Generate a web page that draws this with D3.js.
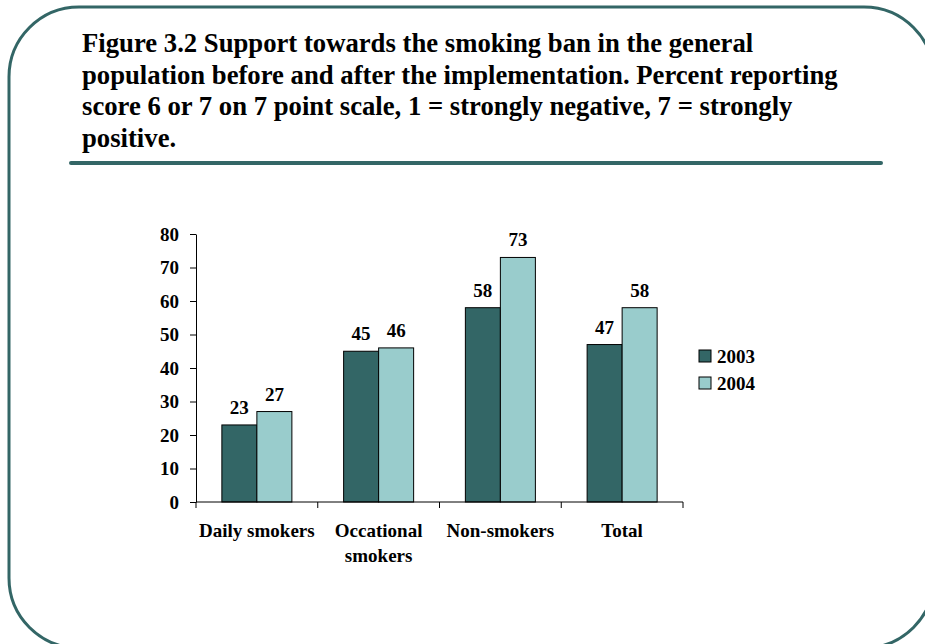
<!DOCTYPE html>
<html>
<head>
<meta charset="utf-8">
<script src="https://cdn.jsdelivr.net/npm/d3@7/dist/d3.min.js"></script>
<style>
  html, body { margin: 0; padding: 0; background: #ffffff; }
  svg { display: block; }
  text { font-family: "Liberation Serif", "Times New Roman", serif; font-weight: bold; fill: #000; }
</style>
</head>
<body>
<svg id="chart" width="925" height="644"></svg>
<script>
// Support for the smoking ban, % scoring 6 or 7 on a 7 point scale
const categories = [["Daily smokers"], ["Occational", "smokers"], ["Non-smokers"], ["Total"]];
const seriesNames = ["2003", "2004"];
const values2003 = [23, 45, 58, 47];
const values2004 = [27, 46, 73, 58];
const yTicks = [0, 10, 20, 30, 40, 50, 60, 70, 80];
const titleLines = [
  "Figure 3.2 Support towards the smoking ban in the general",
  "population before and after the implementation. Percent reporting",
  "score 6 or 7 on 7 point scale, 1 = strongly negative, 7 = strongly",
  "positive."
];

const colors = { "2003": "#336666", "2004": "#99cccc" };
const frameColor = "#336666";
const chartFont = "19px";

const svg = d3.select("#chart");

// Rounded slide frame
svg.append("rect")
  .attr("x", 9).attr("y", 7)
  .attr("width", 925).attr("height", 641)
  .attr("rx", 70).attr("ry", 70)
  .attr("fill", "none")
  .attr("stroke", frameColor)
  .attr("stroke-width", 3);

// Title block
const title = svg.append("text")
  .attr("x", 82)
  .style("font-size", "26.7px");
const titleBaselines = [52, 83.7, 115.3, 147];
titleLines.forEach((line, i) => {
  title.append("tspan").attr("x", 82).attr("y", titleBaselines[i]).text(line);
});

svg.append("line")
  .attr("x1", 71).attr("x2", 881)
  .attr("y1", 163).attr("y2", 163)
  .attr("stroke", frameColor)
  .attr("stroke-width", 4)
  .attr("stroke-linecap", "round");

// Plot area
const plot = { left: 196, right: 683, top: 234, bottom: 502 };
const keys = categories.map(c => c.join(" "));

const x0 = d3.scaleBand().domain(keys).range([plot.left, plot.right]).padding(0);
const x1 = d3.scaleBand().domain(seriesNames)
  .range([0, x0.bandwidth()])
  .paddingInner(0)
  .paddingOuter(0.739);
const y = d3.scaleLinear().domain([0, 80]).range([plot.bottom, plot.top]);

const rows = keys.map((k, i) => ({ key: k, "2003": values2003[i], "2004": values2004[i] }));

// Bars
const groups = svg.append("g").selectAll("g")
  .data(rows).join("g")
  .attr("transform", d => `translate(${x0(d.key)},0)`);

groups.selectAll("rect")
  .data(d => seriesNames.map(s => ({ s, v: d[s] })))
  .join("rect")
  .attr("x", d => x1(d.s))
  .attr("y", d => y(d.v))
  .attr("width", x1.bandwidth())
  .attr("height", d => y(0) - y(d.v))
  .attr("fill", d => colors[d.s])
  .attr("stroke", "#000")
  .attr("stroke-width", 1);

// Value labels
groups.selectAll("text.val")
  .data(d => seriesNames.map(s => ({ s, v: d[s] })))
  .join("text")
  .attr("class", "val")
  .attr("x", d => x1(d.s) + x1.bandwidth() / 2)
  .attr("y", d => y(d.v) - 11)
  .attr("text-anchor", "middle")
  .style("font-size", chartFont)
  .text(d => d.v);

// Y axis
const yAxis = d3.axisLeft(y)
  .tickValues(yTicks)
  .tickSize(6)
  .tickSizeOuter(0)
  .tickPadding(11);
const gy = svg.append("g")
  .attr("transform", `translate(${plot.left},0)`)
  .call(yAxis);
gy.selectAll("text")
  .style("font-size", chartFont)
  .style("font-family", "'Liberation Serif', 'Times New Roman', serif")
  .style("font-weight", "bold");
gy.selectAll("path, line").attr("stroke", "#000");

// X axis: baseline with ticks at category boundaries
const boundaries = keys.map(k => x0(k)).concat([plot.right]);
const gx = svg.append("g");
gx.append("line")
  .attr("x1", plot.left).attr("x2", plot.right)
  .attr("y1", plot.bottom).attr("y2", plot.bottom)
  .attr("stroke", "#000");
gx.selectAll("line.tick")
  .data(boundaries).join("line")
  .attr("class", "tick")
  .attr("x1", d => d).attr("x2", d => d)
  .attr("y1", plot.bottom).attr("y2", plot.bottom + 6)
  .attr("stroke", "#000");

// Category labels
const catLabels = svg.append("g").selectAll("text")
  .data(categories.map((c, i) => ({ lines: c, key: keys[i] })))
  .join("text")
  .attr("text-anchor", "middle")
  .style("font-size", chartFont);
catLabels.each(function (d) {
  const t = d3.select(this);
  d.lines.forEach((ln, j) => {
    t.append("tspan")
      .attr("x", x0(d.key) + x0.bandwidth() / 2)
      .attr("y", 537 + j * 25)
      .text(ln);
  });
});

// Legend
const legend = svg.append("g").selectAll("g")
  .data(seriesNames).join("g")
  .attr("transform", (d, i) => `translate(699,${350 + i * 27})`);
legend.append("rect")
  .attr("width", 12).attr("height", 12)
  .attr("fill", d => colors[d])
  .attr("stroke", "#000")
  .attr("stroke-width", 1);
legend.append("text")
  .attr("x", 18).attr("y", 12.5)
  .style("font-size", chartFont)
  .text(d => d);
</script>
</body>
</html>
